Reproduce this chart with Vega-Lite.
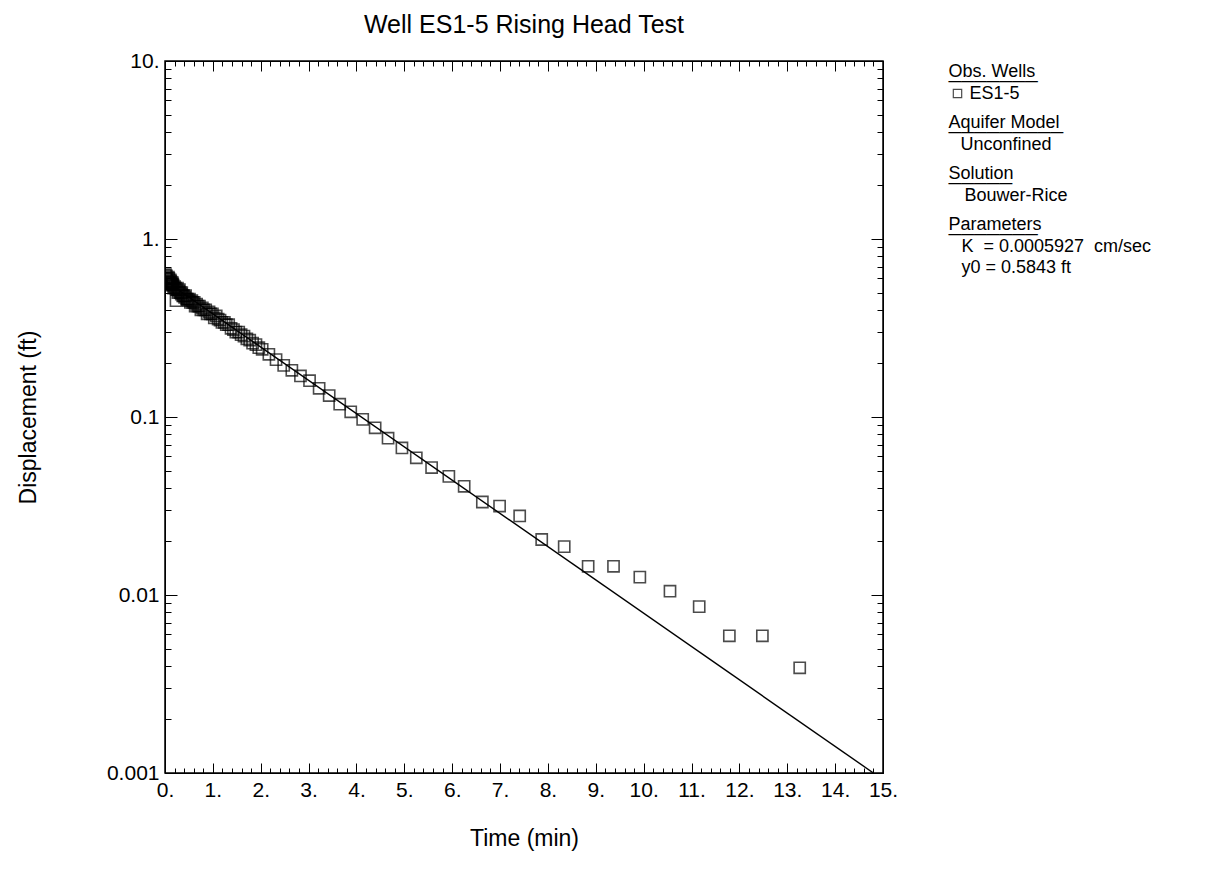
{
  "$schema": "https://vega.github.io/schema/vega-lite/v6.json",
  "autosize": {"type": "none"},
  "padding": {"left": 165, "top": 61, "right": 344, "bottom": 108},
  "width": 718,
  "height": 712,
  "background": "white",
  "title": {"text": "Well ES1-5 Rising Head Test", "font": "Liberation Sans", "fontSize": 25, "fontWeight": "normal", "color": "black", "offset": 12, "anchor": "middle"},
  "config": {
    "view": {"stroke": "black", "strokeWidth": 1.5},
    "axis": {"grid": false, "labelFont": "Liberation Sans", "titleFont": "Liberation Sans", "labelFontSize": 21, "titleFontSize": 23, "titleFontWeight": "normal", "labelColor": "black", "titleColor": "black", "tickColor": "black", "domainColor": "black", "tickWidth": 1, "labelOverlap": false, "labelFlush": false, "labelBound": false},
    "legend": {"labelFont": "Liberation Sans", "titleFont": "Liberation Sans", "labelFontSize": 18, "titleFontSize": 18, "titleFontWeight": "normal", "labelColor": "black", "titleColor": "black", "titleLineHeight": 10, "titlePadding": -6, "rowPadding": 3, "offset": 63, "padding": 1.5, "labelLimit": 300, "titleLimit": 300}
  },
  "datasets": {
    "obs": [
      {"t": 0.01, "v": 0.63}, {"t": 0.02, "v": 0.60}, {"t": 0.03, "v": 0.62}, {"t": 0.04, "v": 0.60}, {"t": 0.05, "v": 0.58},
      {"t": 0.06, "v": 0.57}, {"t": 0.07, "v": 0.61}, {"t": 0.08, "v": 0.60}, {"t": 0.09, "v": 0.57}, {"t": 0.10, "v": 0.56},
      {"t": 0.11, "v": 0.59}, {"t": 0.12, "v": 0.58}, {"t": 0.13, "v": 0.56}, {"t": 0.14, "v": 0.55}, {"t": 0.15, "v": 0.57},
      {"t": 0.16, "v": 0.56}, {"t": 0.17, "v": 0.55}, {"t": 0.18, "v": 0.53}, {"t": 0.20, "v": 0.54}, {"t": 0.22, "v": 0.53},
      {"t": 0.23, "v": 0.45}, {"t": 0.24, "v": 0.52}, {"t": 0.26, "v": 0.53}, {"t": 0.27, "v": 0.50}, {"t": 0.29, "v": 0.51},
      {"t": 0.30, "v": 0.52}, {"t": 0.32, "v": 0.50}, {"t": 0.34, "v": 0.49}, {"t": 0.35, "v": 0.50}, {"t": 0.37, "v": 0.48},
      {"t": 0.39, "v": 0.48}, {"t": 0.41, "v": 0.47}, {"t": 0.43, "v": 0.48}, {"t": 0.45, "v": 0.46}, {"t": 0.47, "v": 0.46},
      {"t": 0.49, "v": 0.45}, {"t": 0.51, "v": 0.46}, {"t": 0.53, "v": 0.44}, {"t": 0.56, "v": 0.45}, {"t": 0.58, "v": 0.44},
      {"t": 0.61, "v": 0.44}, {"t": 0.63, "v": 0.42}, {"t": 0.66, "v": 0.43}, {"t": 0.69, "v": 0.42}, {"t": 0.72, "v": 0.42},
      {"t": 0.75, "v": 0.40}, {"t": 0.78, "v": 0.41}, {"t": 0.81, "v": 0.40}, {"t": 0.85, "v": 0.40}, {"t": 0.88, "v": 0.38},
      {"t": 0.92, "v": 0.39}, {"t": 0.95, "v": 0.38}, {"t": 0.99, "v": 0.38}, {"t": 1.03, "v": 0.36}, {"t": 1.07, "v": 0.37},
      {"t": 1.11, "v": 0.355}, {"t": 1.15, "v": 0.35}, {"t": 1.19, "v": 0.34}, {"t": 1.24, "v": 0.34}, {"t": 1.28, "v": 0.33},
      {"t": 1.33, "v": 0.33}, {"t": 1.38, "v": 0.315}, {"t": 1.43, "v": 0.31}, {"t": 1.48, "v": 0.30}, {"t": 1.54, "v": 0.30},
      {"t": 1.59, "v": 0.29}, {"t": 1.65, "v": 0.285}, {"t": 1.71, "v": 0.275}, {"t": 1.77, "v": 0.27}, {"t": 1.83, "v": 0.26},
      {"t": 1.90, "v": 0.255}, {"t": 1.96, "v": 0.245}, {"t": 2.03, "v": 0.24}, {"t": 2.17, "v": 0.225}, {"t": 2.32, "v": 0.21},
      {"t": 2.48, "v": 0.195}, {"t": 2.65, "v": 0.183}, {"t": 2.83, "v": 0.17}, {"t": 3.02, "v": 0.16}, {"t": 3.22, "v": 0.145},
      {"t": 3.43, "v": 0.132}, {"t": 3.65, "v": 0.118}, {"t": 3.88, "v": 0.107}, {"t": 4.13, "v": 0.097}, {"t": 4.39, "v": 0.087},
      {"t": 4.66, "v": 0.076}, {"t": 4.95, "v": 0.067}, {"t": 5.25, "v": 0.059}, {"t": 5.57, "v": 0.052}, {"t": 5.93, "v": 0.0464},
      {"t": 6.25, "v": 0.0408}, {"t": 6.63, "v": 0.0333}, {"t": 6.99, "v": 0.0316}, {"t": 7.41, "v": 0.0278}, {"t": 7.87, "v": 0.0205},
      {"t": 8.34, "v": 0.0187}, {"t": 8.84, "v": 0.0145}, {"t": 9.37, "v": 0.0145}, {"t": 9.92, "v": 0.0126}, {"t": 10.55, "v": 0.0105},
      {"t": 11.16, "v": 0.0086}, {"t": 11.79, "v": 0.0059}, {"t": 12.48, "v": 0.0059}, {"t": 13.26, "v": 0.0039}
    ],
    "fit": [{"t": 0, "v": 0.5843}, {"t": 14.8, "v": 0.001}],
    "info": [{"param": "K\u00a0\u00a0=\u00a00.0005927\u00a0 cm/sec"}, {"param": "y0 = 0.5843 ft"}]
  },
  "layer": [
    {
      "data": {"name": "obs"},
      "mark": {"type": "point", "shape": "square", "filled": false, "size": 125, "strokeWidth": 1.6, "clip": true},
      "encoding": {
        "x": {"field": "t", "type": "quantitative", "scale": {"domain": [0, 15], "nice": false, "zero": false},
          "axis": {"orient": "bottom", "title": "Time (min)", "titlePadding": 22, "labelPadding": 16, "domain": true,
            "values": [0,0.2,0.4,0.6,0.8,1,1.2,1.4,1.6,1.8,2,2.2,2.4,2.6,2.8,3,3.2,3.4,3.6,3.8,4,4.2,4.4,4.6,4.8,5,5.2,5.4,5.6,5.8,6,6.2,6.4,6.6,6.8,7,7.2,7.4,7.6,7.8,8,8.2,8.4,8.6,8.8,9,9.2,9.4,9.6,9.8,10,10.2,10.4,10.6,10.8,11,11.2,11.4,11.6,11.8,12,12.2,12.4,12.6,12.8,13,13.2,13.4,13.6,13.8,14,14.2,14.4,14.6,14.8,15],
            "labelExpr": "datum.value % 1 === 0 ? datum.value + '.' : ''",
            "tickSize": {"condition": {"test": "datum.value % 1 === 0", "value": -10}, "value": -5}}},
        "y": {"field": "v", "type": "quantitative", "scale": {"type": "log", "domain": [0.001, 10], "nice": false},
          "axis": {"orient": "left", "title": "Displacement (ft)", "titlePadding": 66, "labelPadding": 18, "domain": true,
            "values": [0.001,0.002,0.003,0.004,0.005,0.006,0.007,0.008,0.009,0.01,0.02,0.03,0.04,0.05,0.06,0.07,0.08,0.09,0.1,0.2,0.3,0.4,0.5,0.6,0.7,0.8,0.9,1,2,3,4,5,6,7,8,9,10],
            "labelExpr": "abs(log(datum.value)/LN10 - round(log(datum.value)/LN10)) < 0.0001 ? (datum.value >= 1 ? datum.value + '.' : '' + datum.value) : ''",
            "tickSize": {"condition": {"test": "abs(log(datum.value)/LN10 - round(log(datum.value)/LN10)) < 0.0001", "value": -12}, "value": -6}}},
        "color": {"datum": "ES1-5", "type": "nominal", "scale": {"range": ["black"]},
          "legend": {"title": ["Obs. Wells", "───────"], "symbolType": "square", "symbolSize": 70, "symbolStrokeWidth": 1.2, "labelOffset": 3}}
      }
    },
    {
      "data": {"name": "fit"},
      "mark": {"type": "line", "color": "black", "strokeWidth": 1.4, "clip": true},
      "encoding": {
        "x": {"field": "t", "type": "quantitative",
          "axis": {"orient": "top", "title": null, "labels": false, "domain": true,
            "values": [0,0.2,0.4,0.6,0.8,1,1.2,1.4,1.6,1.8,2,2.2,2.4,2.6,2.8,3,3.2,3.4,3.6,3.8,4,4.2,4.4,4.6,4.8,5,5.2,5.4,5.6,5.8,6,6.2,6.4,6.6,6.8,7,7.2,7.4,7.6,7.8,8,8.2,8.4,8.6,8.8,9,9.2,9.4,9.6,9.8,10,10.2,10.4,10.6,10.8,11,11.2,11.4,11.6,11.8,12,12.2,12.4,12.6,12.8,13,13.2,13.4,13.6,13.8,14,14.2,14.4,14.6,14.8,15],
            "tickSize": {"condition": {"test": "datum.value % 1 === 0", "value": -10}, "value": -5}}},
        "y": {"field": "v", "type": "quantitative",
          "axis": {"orient": "right", "title": null, "labels": false, "domain": true,
            "values": [0.001,0.002,0.003,0.004,0.005,0.006,0.007,0.008,0.009,0.01,0.02,0.03,0.04,0.05,0.06,0.07,0.08,0.09,0.1,0.2,0.3,0.4,0.5,0.6,0.7,0.8,0.9,1,2,3,4,5,6,7,8,9,10],
            "tickSize": {"condition": {"test": "abs(log(datum.value)/LN10 - round(log(datum.value)/LN10)) < 0.0001", "value": -12}, "value": -6}}}
      }
    },
    {
      "data": {"name": "info"},
      "mark": {"type": "point", "opacity": 0},
      "encoding": {
        "shape": {"datum": "Unconfined", "type": "nominal",
          "legend": {"title": ["Aquifer Model", "─────────"], "symbolSize": 20, "symbolOpacity": 0, "labelOffset": -6}},
        "fill": {"datum": "Bouwer-Rice", "type": "nominal", "scale": {"range": ["white"]},
          "legend": {"title": ["Solution", "─────"], "symbolSize": 20, "symbolOpacity": 0, "labelOffset": -2}},
        "stroke": {"field": "param", "type": "nominal", "scale": {"range": ["white", "white"]},
          "legend": {"title": ["Parameters", "───────"], "symbolSize": 20, "symbolOpacity": 0, "labelOffset": -5}}
      }
    }
  ],
  "resolve": {"axis": {"x": "independent", "y": "independent"}}
}
